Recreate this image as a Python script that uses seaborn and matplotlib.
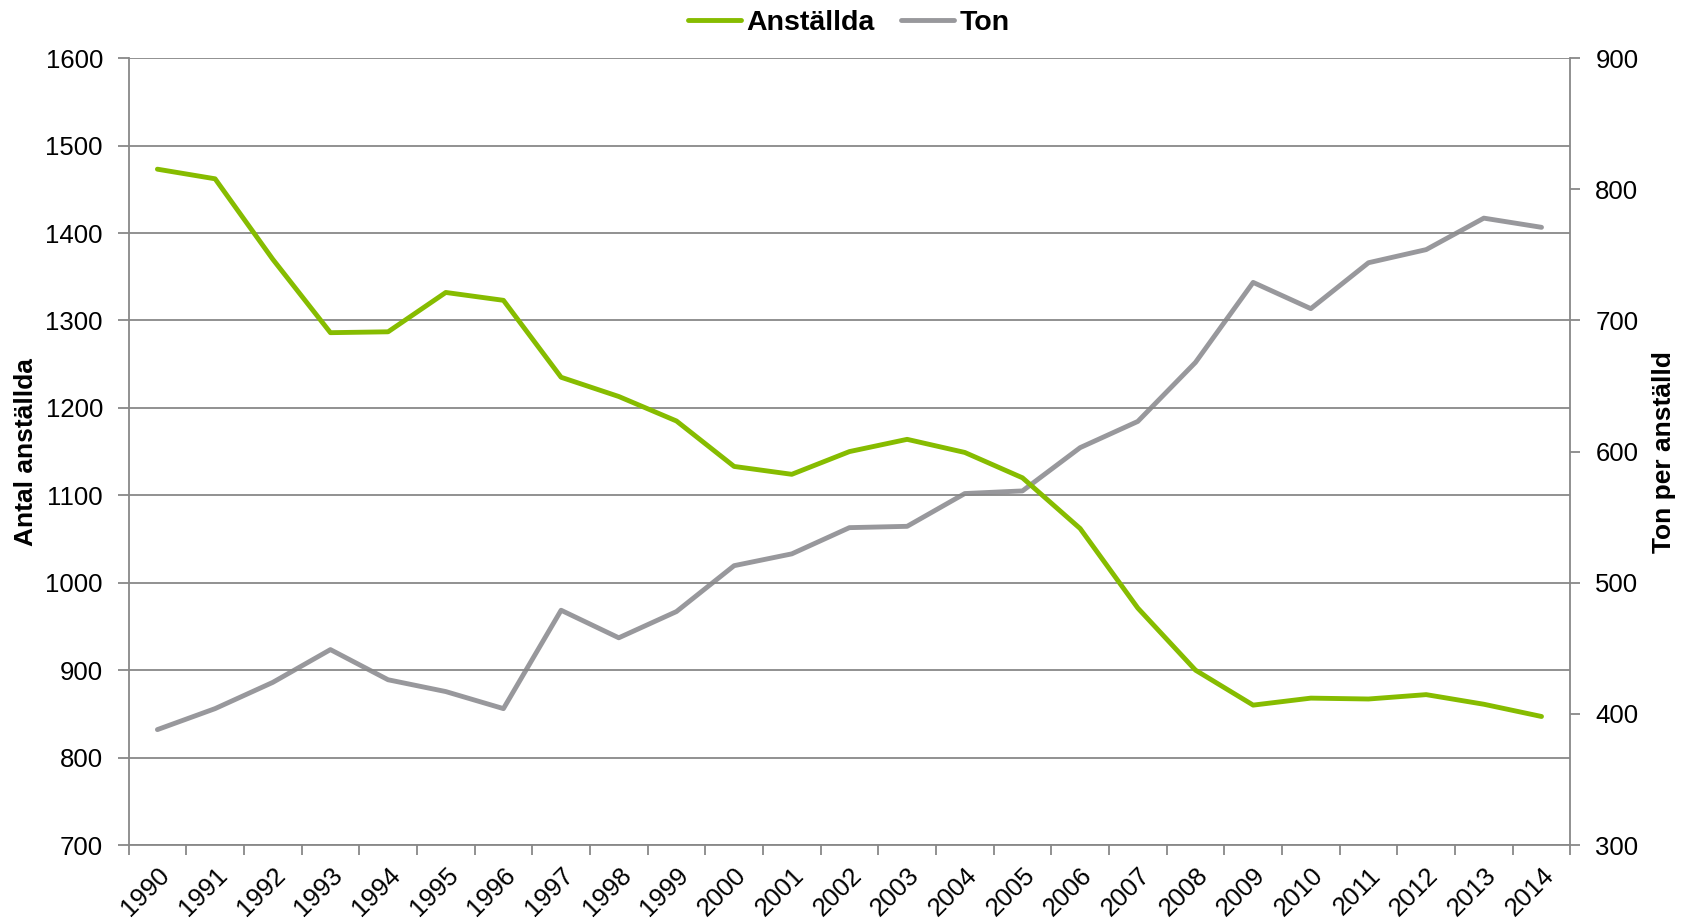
import numpy as np
import pandas as pd
import matplotlib
matplotlib.use("Agg")
import matplotlib.pyplot as plt
import matplotlib.transforms as mtransforms
import seaborn as sns
from matplotlib.lines import Line2D
from matplotlib.ticker import FixedLocator, MultipleLocator

years = [str(y) for y in range(1990, 2015)]
anstallda = [1473, 1462, 1370, 1286, 1287, 1332, 1323, 1235, 1213, 1185,
             1133, 1124, 1150, 1164, 1149, 1120, 1062, 971, 900, 860,
             868, 867, 872, 861, 847]
ton = [388, 404, 424, 449, 426, 417, 404, 479, 458, 478,
       513, 522, 542, 543, 568, 570, 603, 623, 668, 729,
       709, 744, 754, 778, 771]

green = "#86BC00"
gray = "#98989C"
gridc = "#888888"

sns.set_theme(style="white")
plt.rcParams['font.family'] = ['Liberation Sans', 'DejaVu Sans']
plt.rcParams['text.color'] = 'black'
plt.rcParams['axes.labelcolor'] = 'black'
plt.rcParams['xtick.color'] = 'black'
plt.rcParams['ytick.color'] = 'black'

df = pd.DataFrame({"pos": np.arange(len(years)), "year": years,
                   "Anställda": anstallda, "Ton": ton})

fig = plt.figure(figsize=(16.94, 9.23), dpi=100)
ax = fig.add_axes([0.0759, 0.0845, 0.927 - 0.0759, 0.937 - 0.0845])
ax2 = ax.twinx()

lw = 3.5
sns.lineplot(data=df, x="pos", y="Ton", ax=ax2, color=gray, linewidth=lw,
             solid_capstyle="round", solid_joinstyle="round")
sns.lineplot(data=df, x="pos", y="Anställda", ax=ax, color=green, linewidth=lw,
             solid_capstyle="round", solid_joinstyle="round", zorder=5)
ax.set_zorder(ax2.get_zorder() + 1)
ax.patch.set_visible(False)

ax.set_xlim(-0.5, len(years) - 0.5)
ax.set_ylim(700, 1600)
ax2.set_ylim(300, 900)
ax.yaxis.set_major_locator(MultipleLocator(100))
ax2.yaxis.set_major_locator(MultipleLocator(100))

ax.grid(axis="y", color=gridc, linewidth=1.3)
ax.set_axisbelow(True)

ax.set_xticks(np.arange(len(years)))
ax.set_xticklabels(years, rotation=45, ha="right", va="top", rotation_mode="anchor",
                   fontsize=18.5)
offset = mtransforms.ScaledTranslation(-5 / 100, 0, fig.dpi_scale_trans)
for lbl in ax.get_xticklabels():
    lbl.set_transform(lbl.get_transform() + offset)
ax.xaxis.set_minor_locator(FixedLocator(np.arange(-0.5, len(years), 1.0)))
ax.tick_params(axis="x", which="major", length=0, pad=13, colors="black")
ax.tick_params(axis="x", which="minor", length=7, width=1.3, color=gridc, bottom=True)
ax.tick_params(axis="y", which="major", length=8, width=1.3, color=gridc,
               labelcolor="black", labelsize=18.5, pad=10.5, left=True)
ax2.tick_params(axis="y", which="major", length=7, width=1.3, color=gridc,
                labelcolor="black", labelsize=18.5, pad=11, right=True)

for a in (ax, ax2):
    for s in a.spines.values():
        s.set_visible(False)
for a, side in ((ax, "left"), (ax, "bottom"), (ax2, "right")):
    a.spines[side].set_visible(True)
    a.spines[side].set_color(gridc)
    a.spines[side].set_linewidth(1.3)

ax.set_xlabel("")
ax.set_ylabel("Antal anställda", fontsize=19, fontweight="bold", labelpad=5.5,
              color="black")
ax2.set_ylabel("Ton per anställd", fontsize=19, fontweight="bold", labelpad=10,
               rotation=90, color="black")

handles = [Line2D([0], [0], color=green, linewidth=lw, solid_capstyle="round"),
           Line2D([0], [0], color=gray, linewidth=lw, solid_capstyle="round")]
leg = fig.legend(handles, ["Anställda", "Ton"], loc="center", bbox_to_anchor=(0.501, 0.975),
                 ncol=2, frameon=False, handlelength=1.86, handletextpad=0.19,
                 columnspacing=0.95, prop={"size": 20.5, "weight": "bold"})
for t in leg.get_texts():
    t.set_color("black")

fig.savefig("out.png", dpi=100)
